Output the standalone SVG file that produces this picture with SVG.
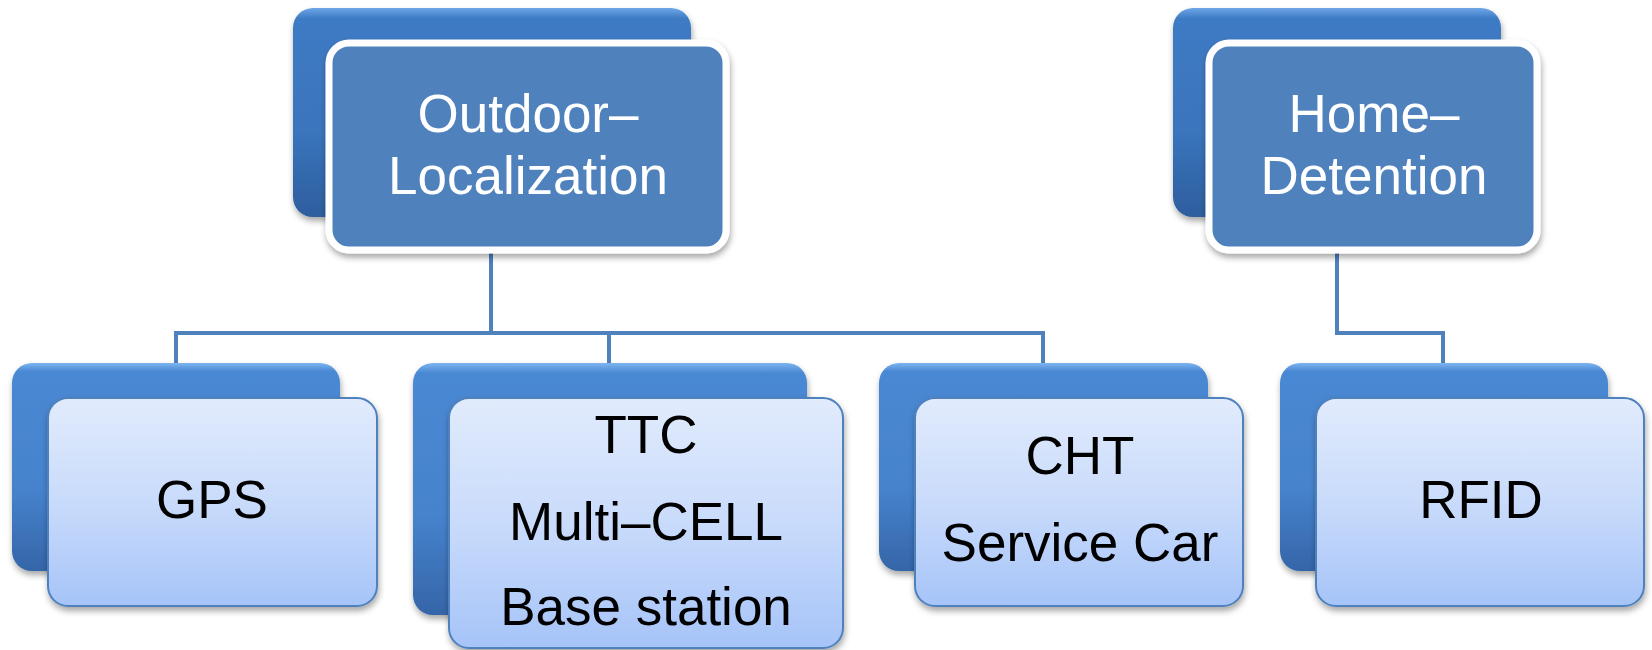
<svg xmlns="http://www.w3.org/2000/svg" width="1652" height="650" viewBox="0 0 1652 650">
<defs>
<linearGradient id="backG" x1="0" y1="0" x2="0" y2="1">
<stop offset="0" stop-color="#7DB5F0"/>
<stop offset="0.04" stop-color="#4A88D3"/>
<stop offset="0.6" stop-color="#4683CD"/>
<stop offset="1" stop-color="#3565A8"/>
</linearGradient>
<linearGradient id="backG1" x1="0" y1="0" x2="0" y2="1">
<stop offset="0" stop-color="#6FA6E6"/>
<stop offset="0.05" stop-color="#3E7BC4"/>
<stop offset="0.6" stop-color="#3A74BC"/>
<stop offset="1" stop-color="#2D5E9E"/>
</linearGradient>
<linearGradient id="frontG" x1="0" y1="0" x2="0" y2="1">
<stop offset="0" stop-color="#E1EBFC"/>
<stop offset="0.5" stop-color="#C9DBFB"/>
<stop offset="1" stop-color="#A6C4F8"/>
</linearGradient>
<filter id="sh" x="-10%" y="-10%" width="125%" height="130%">
<feDropShadow dx="1" dy="4" stdDeviation="3" flood-color="#000" flood-opacity="0.35"/>
</filter>
</defs>
<style>
.back{fill:url(#backG);filter:url(#sh)}
.back1{fill:url(#backG1);filter:url(#sh)}
.top{fill:#4F81BD;stroke:#FFFFFF;stroke-width:7;filter:url(#sh)}
.sub{fill:url(#frontG);stroke:#4F81BD;stroke-width:2;filter:url(#sh)}
.conn{fill:none;stroke:#4F81BD;stroke-width:4}
.tw{font-family:"Liberation Sans",Arial,sans-serif;font-size:53px;fill:#FFFFFF;text-anchor:middle}
.tb{font-family:"Liberation Sans",Arial,sans-serif;font-size:53px;fill:#000000;text-anchor:middle}
</style>
<rect width="1652" height="650" fill="#FFFFFF"/>
<g id="connectors">
<path class="conn" d="M491 252 V333 M176 363 V333 H1043 V363 M609 333 V363"/>
<path class="conn" d="M1337 252 V333 H1443 V363"/>
</g>
<g id="outdoor">
<rect class="back1" x="293" y="8" width="398" height="209" rx="20"/>
<rect class="top" x="329" y="43" width="397" height="207" rx="20"/>
<text class="tw" x="528" y="132">Outdoor–</text>
<text class="tw" x="528" y="194">Localization</text>
</g>
<g id="home">
<rect class="back1" x="1173" y="8" width="328" height="209" rx="20"/>
<rect class="top" x="1209" y="43" width="328" height="207" rx="20"/>
<text class="tw" x="1374" y="132">Home–</text>
<text class="tw" x="1374" y="194">Detention</text>
</g>
<g id="gps">
<rect class="back" x="12" y="363" width="328" height="208" rx="20"/>
<rect class="sub" x="48" y="398" width="329" height="208" rx="20"/>
<text class="tb" x="212" y="518">GPS</text>
</g>
<g id="ttc">
<rect class="back" x="413" y="363" width="394" height="252" rx="20"/>
<rect class="sub" x="449" y="398" width="394" height="250" rx="20"/>
<text class="tb" x="646" y="453">TTC</text>
<text class="tb" x="646" y="540">Multi–CELL</text>
<text class="tb" x="646" y="625">Base station</text>
</g>
<g id="cht">
<rect class="back" x="879" y="363" width="329" height="208" rx="20"/>
<rect class="sub" x="915" y="398" width="328" height="208" rx="20"/>
<text class="tb" x="1080" y="474">CHT</text>
<text class="tb" x="1080" y="561">Service Car</text>
</g>
<g id="rfid">
<rect class="back" x="1280" y="363" width="328" height="208" rx="20"/>
<rect class="sub" x="1316" y="398" width="328" height="208" rx="20"/>
<text class="tb" x="1481" y="518">RFID</text>
</g>
</svg>
